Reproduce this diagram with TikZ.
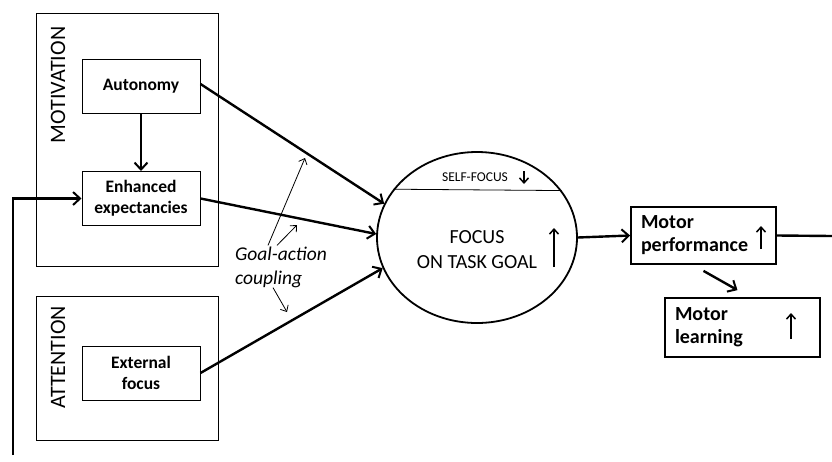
\documentclass[tikz,border=0pt]{standalone}
\usepackage{fontspec}
\setmainfont{Carlito}
\usetikzlibrary{shapes, arrows.meta}

\begin{document}
\begin{tikzpicture}[x=1pt,y=-1pt,
	group/.style={draw, line width=1pt, inner sep=0pt},
	grouplabel/.style={rotate=90, font=\fontsize{22}{24}\selectfont},
	factor/.style={draw, line width=1pt, inner sep=0pt, align=center,
		minimum width=118pt, minimum height=54pt, font=\bfseries\fontsize{17.5}{21}\selectfont},
	result/.style={draw, line width=1.8pt, inner sep=0pt, align=left,
		font=\bfseries\fontsize{20}{23}\selectfont},
	flow/.style={-{Straight Barb[length=7pt,width=13pt,line width=2pt]}, line width=2.4pt},
	hint/.style={-{Straight Barb[length=5pt,width=9pt]}, line width=0.8pt},
	rise/.style={-{Straight Barb[length=5pt,width=9pt]}, line width=1.5pt}]
	\useasboundingbox (0,0) rectangle (832,461);
	% left groups
	\node[group, minimum width=182pt, minimum height=253pt] (motiv) at (127,139.5) {};
	\node[grouplabel] (motivlabel) at (58,85) {MOTIVATION};
	\node[group, minimum width=182pt, minimum height=144pt] (attn) at (127,368) {};
	\node[grouplabel] (attnlabel) at (58,357.5) {ATTENTION};
	\node[factor] (auto) at (141,86) {Autonomy};
	\node[factor] (enh) at (141,198.5) {Enhanced\\expectancies};
	\node[factor] (ext) at (141,373) {External\\focus};
	% central ellipse
	\node[draw, ellipse, line width=1.8pt, minimum width=200pt, minimum height=171pt] (goal) at (477,237.5) {};
	\draw[line width=0.8pt] (goal.150.2) -- (goal.29.8);
	\node[font=\fontsize{13.5}{15}\selectfont] (self) at (475,177) {SELF-FOCUS};
	\node[align=center, font=\fontsize{20}{25}\selectfont] (task) at (477,250) {FOCUS\\ON TASK GOAL};
	\node[font=\itshape\fontsize{19.5}{24}\selectfont, align=left, inner sep=0pt] (couple) at (281,267) {Goal-action\\coupling};
	% outcomes
	\node[result, minimum width=145pt, minimum height=57pt, text width=125pt] (perf) at (703.5,235.5) {Motor\\performance};
	\node[result, minimum width=155pt, minimum height=59pt, text width=135pt] (learn) at (742.5,327.5) {Motor\\learning};
	\coordinate (up1) at (305,158);
	\coordinate (up2) at (297,225);
	\coordinate (down1) at (287,312);
	\coordinate (loopin) at (13,455);
	\coordinate (loopout) at (832,236);
	% arrows
	\draw[flow] (auto) -- (enh);
	\draw[flow] ([yshift=2pt]auto.east) -- (goal.160);
	\draw[flow] (enh.east) -- (goal.178);
	\draw[flow] (ext.east) -- (goal.198);
	\draw[flow] (goal.east) -- (perf.west);
	\draw[flow] ([yshift=-6pt]perf.south) -- ([xshift=-5pt,yshift=7pt]learn.north);
	\draw[line width=2.4pt] (perf.east) -- (loopout);
	\draw[flow] (loopin) |- (enh.west);
	\draw[hint] ([xshift=-13pt,yshift=1pt]couple.north) -- (up1);
	\draw[hint] ([xshift=-4pt,yshift=1pt]couple.north) -- (up2);
	\draw[hint] ([xshift=-8pt]couple.south) -- (down1);
	% up and down marks
	\draw[rise] (524,171) -- (524,184);
	\draw[rise] (554,267) -- (554,228);
	\draw[rise] (761,249) -- (761,226);
	\draw[rise] (791,339) -- (791,313);
\end{tikzpicture}
\end{document}
